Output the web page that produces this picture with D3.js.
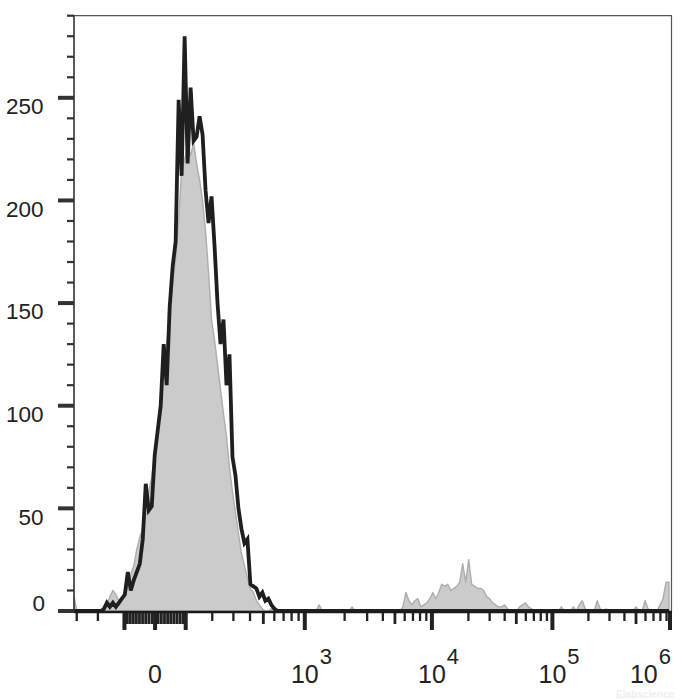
<!DOCTYPE html>
<html><head><meta charset="utf-8">
<script src="https://cdn.jsdelivr.net/npm/d3@7"></script>
<style>html,body{margin:0;padding:0;background:#fff;} svg{display:block;}</style>
</head><body>
<svg id="chart" width="700" height="700"></svg>
<script>
// ---------- data ----------
const N_CHANNELS = 200;
// control (isotype, grey filled) counts per display channel
const controlCounts = [
  7,0,0,0,0,0,0,0,0,0,
  2,3,7,10,8,5,6,7,12,18,
  22,30,36,40,52,58,65,78,90,105,
  118,130,145,160,172,190,215,220,226,222,
  228,218,210,200,185,165,142,132,120,108,
  96,85,70,58,48,38,28,22,16,11,
  9,5,3,1,0,0,1,2,1,0,
  0,0,0,0,0,0,0,0,0,0,
  0,0,3,0,0,0,0,0,0,0,
  0,0,0,2,0,0,0,0,0,0,
  0,0,0,0,0,0,0,0,0,0,
  2,9,5,3,5,6,2,3,4,6,
  9,6,9,13,12,13,10,11,12,14,
  23,14,25,13,12,11,11,10,7,6,
  4,3,2,2,3,1,0,0,0,2,
  3,4,2,1,0,0,0,0,0,0,
  0,0,0,2,0,0,0,2,0,3,
  5,1,0,0,0,5,1,0,1,0,
  0,0,0,0,0,0,0,0,2,0,
  0,5,1,0,0,0,3,6,14,14
];
// stained sample (black line) counts per display channel
const sampleCounts = [
  0,0,0,0,0,0,0,0,0,0,
  1,4,2,4,2,4,6,8,19,10,
  15,19,23,35,62,49,51,76,88,100,
  130,110,148,168,180,249,212,280,218,255,
  229,231,241,232,205,189,202,178,150,130,
  142,110,125,75,66,50,40,33,35,13,
  12,11,7,9,5,6,3,1,0,0,
  0,0,0,0,0,0,0,0,0,0,
  0,0,0,0,0,0,0,0,0,0,
  0,0,0,0,0,0,0,0,0,0,
  0,0,0,0,0,0,0,0,0,0,
  0,0,0,0,0,0,0,0,0,0,
  0,0,0,0,0,0,0,0,0,0,
  0,0,0,0,0,0,0,0,0,0,
  0,0,0,0,0,0,0,0,0,0,
  0,0,0,0,0,0,0,0,0,0,
  0,0,0,0,0,0,0,0,0,0,
  0,0,0,0,0,0,0,0,0,0,
  0,0,0,0,0,0,0,0,0,0,
  0,0,0,0,0,0,0,0,0,0
];
const yMax = 290;
const yMajorTicks = [0, 50, 100, 150, 200, 250];
const yMinorTicks = [10,20,30,40,60,70,80,90,110,120,130,140,160,170,180,190,210,220,230,240,260,270,280,290];
const xDomain = [-315, 1e6];
const xMajorTicks = [-100, 0, 100, 1e3, 1e4, 1e5, 1e6];
const xMidTicks = [-90,-80,-70,-60,-50,-40,-30,-20,-10,10,20,30,40,50,60,70,80,90,500,5e3,5e4,5e5];
const xMinorTicks = [-300,-200,200,300,400,600,700,800,900,
  2e3,3e3,4e3,6e3,7e3,8e3,9e3, 2e4,3e4,4e4,6e4,7e4,8e4,9e4, 2e5,3e5,4e5,6e5,7e5,8e5,9e5];
const xLabelValues = [0, 1e3, 1e4, 1e5, 1e6];
const xLabelExps = ["", "3", "4", "5", "6"];

// ---------- biexponential (logicle-like) transform ----------
const BX_A = 47.2, BX_P = 2.5;
function biexValue(u) { // decades from zero -> data value
  return BX_A * (Math.pow(10, u) - BX_P*BX_P*Math.pow(10, -u/BX_P) + BX_P*BX_P - 1);
}
function biex(x) { // data value -> decades from zero
  const s = Math.sign(x), ax = Math.abs(x);
  let lo = 0, hi = 9;
  for (let i = 0; i < 80; i++) { const m = (lo+hi)/2; if (biexValue(m) < ax) lo = m; else hi = m; }
  return s * (lo+hi)/2;
}

// ---------- layout ----------
const plot = {left: 74, right: 672, top: 15.7, bottom: 611};
const svg = d3.select('#chart');
const font = '"Liberation Sans", Arial, Helvetica, sans-serif';

const xDisp = d3.scaleLinear().domain(xDomain.map(biex)).range([plot.left, plot.right]);
const xs = v => xDisp(biex(v));
const xChan = d3.scaleLinear().domain([0, N_CHANNELS]).range([plot.left, plot.right]);
const y = d3.scaleLinear().domain([0, yMax]).range([plot.bottom, plot.top]);

// control histogram (filled grey)
const area = d3.area().x((d,i) => xChan(i)).y0(y(0)).y1(d => y(d));
svg.append('path').datum(controlCounts).attr('d', area)
  .attr('fill', '#cbcbcb').attr('stroke', '#adadad').attr('stroke-width', 1.4).attr('stroke-linejoin','round');

// sample histogram (black line)
const line = d3.line().x((d,i) => xChan(i)).y(d => y(d));
svg.append('path').datum(sampleCounts).attr('d', line)
  .attr('fill', 'none').attr('stroke', '#1f1f1f').attr('stroke-width', 3.8).attr('stroke-linejoin','miter')
  .attr('stroke-miterlimit', 3);

// frame
svg.append('line').attr('x1', plot.left).attr('x2', plot.right).attr('y1', plot.top).attr('y2', plot.top)
  .attr('stroke', '#555').attr('stroke-width', 1.2);
svg.append('line').attr('x1', plot.right-0.5).attr('x2', plot.right-0.5).attr('y1', plot.top).attr('y2', plot.bottom)
  .attr('stroke', '#555').attr('stroke-width', 1.2);

// y axis
const yAxisG = svg.append('g');
yAxisG.append('line').attr('x1', plot.left).attr('x2', plot.left).attr('y1', plot.top).attr('y2', plot.bottom+2)
  .attr('stroke', '#333').attr('stroke-width', 1.6);
yAxisG.selectAll('.ymaj').data(yMajorTicks).join('line')
  .attr('x1', plot.left-16).attr('x2', plot.left).attr('y1', d => y(d)).attr('y2', d => y(d))
  .attr('stroke', '#333').attr('stroke-width', 4);
yAxisG.selectAll('.ymin').data(yMinorTicks).join('line')
  .attr('x1', plot.left-7).attr('x2', plot.left).attr('y1', d => y(d)).attr('y2', d => y(d))
  .attr('stroke', '#333').attr('stroke-width', 2.2);
yAxisG.selectAll('text').data(yMajorTicks).join('text')
  .attr('x', d => d === 0 ? 45 : 43.5)
  .attr('y', d => d === 0 ? y(d) : y(d) + 16.3)
  .attr('text-anchor', 'end').attr('font-family', font).attr('font-size', 22.5).attr('fill', '#222')
  .text(d => d);

// x axis
const xAxisG = svg.append('g');
const tickTop = plot.bottom;
xAxisG.selectAll('.xmin').data(xMinorTicks.filter(v => v >= xDomain[0])).join('line')
  .attr('x1', d => xs(d)).attr('x2', d => xs(d)).attr('y1', tickTop).attr('y2', tickTop + 10)
  .attr('stroke', '#222').attr('stroke-width', 2.3);
xAxisG.selectAll('.xmid').data(xMidTicks).join('line')
  .attr('x1', d => xs(d)).attr('x2', d => xs(d)).attr('y1', tickTop).attr('y2', tickTop + 13)
  .attr('stroke', '#222').attr('stroke-width', 2.8);
xAxisG.selectAll('.xmaj').data(xMajorTicks).join('line')
  .attr('x1', d => Math.min(xs(d), plot.right-2)).attr('x2', d => Math.min(xs(d), plot.right-2))
  .attr('y1', tickTop).attr('y2', tickTop + 19)
  .attr('stroke', '#222').attr('stroke-width', 4);
xAxisG.append('line').attr('x1', plot.left).attr('x2', plot.right).attr('y1', plot.bottom+1).attr('y2', plot.bottom+1)
  .attr('stroke', '#1a1a1a').attr('stroke-width', 2.6);

// x labels
const labelBase = 683;
xLabelValues.forEach((v, i) => {
  const g = xAxisG.append('g');
  const t = g.append('text').attr('x', xs(v)).attr('y', labelBase).attr('text-anchor', 'middle')
    .attr('font-family', font).attr('font-size', 25).attr('fill', '#222')
    .text(v === 0 ? '0' : '10');
  if (xLabelExps[i]) {
    const bw = t.node().getComputedTextLength();
    g.append('text').attr('x', xs(v) + bw/2 + 1).attr('y', labelBase - 19).attr('text-anchor', 'start')
      .attr('font-family', font).attr('font-size', 22).attr('fill', '#222').text(xLabelExps[i]);
    const bb = g.node().getBBox();
    const over = bb.x + bb.width - (plot.right - 1);
    if (over > 0) g.attr('transform', `translate(${-over},0)`);
  }
});

// faint watermark (kept clear of the tick labels)
svg.append('text').attr('x', 674).attr('y', 698).attr('text-anchor', 'end')
  .attr('font-family', font).attr('font-size', 10).attr('font-weight', 'bold').attr('fill', '#efefef')
  .text('Elabscience');
</script>
</body></html>
